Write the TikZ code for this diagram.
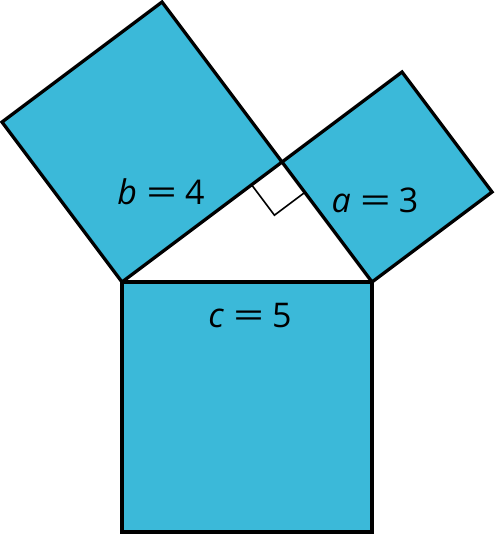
\documentclass[tikz,border=0pt]{standalone}
\usepackage{fontspec}
\setmainfont{Open Sans}
\usetikzlibrary{calc}
\definecolor{sqfill}{HTML}{3BB9D9}
\newcommand{\wideeq}{\scalebox{1.6}[1]{=}}
\begin{document}
\begin{tikzpicture}[x=1pt,y=-1pt,
  sq/.style={fill=sqfill,draw=black,line width=3.3pt,line join=miter},
  ramark/.style={draw=black,line width=1.6pt},
  lbl/.style={font=\fontsize{34}{40}\selectfont,inner sep=0pt}]
\useasboundingbox (0,0) rectangle (495,535);
\coordinate (A) at (122,282);
\coordinate (B) at (372,282);
\coordinate (C) at (282,162);
% square on b
\draw[sq] (A) -- (C) -- (162,2) -- (2,122) -- cycle;
% square on a
\draw[sq] (C) -- (B) -- (492,192) -- (402,72) -- cycle;
% square on c
\draw[sq] (A) -- (B) -- (372,532) -- (122,532) -- cycle;
% right angle mark
\draw[ramark] ($(C)+(-30.4,22.8)$) -- ++(22.8,30.4) -- ++(30.4,-22.8);
\node[lbl] (lb) at (161,192) {\textit{b}\hspace{9pt}\wideeq\hspace{8pt}4};
\node[lbl] (la) at (375,200) {\textit{a}\hspace{9pt}\wideeq\hspace{8pt}3};
\node[lbl] (lc) at (250,316) {\textit{c}\hspace{9pt}\wideeq\hspace{8pt}5};
\end{tikzpicture}
\end{document}
